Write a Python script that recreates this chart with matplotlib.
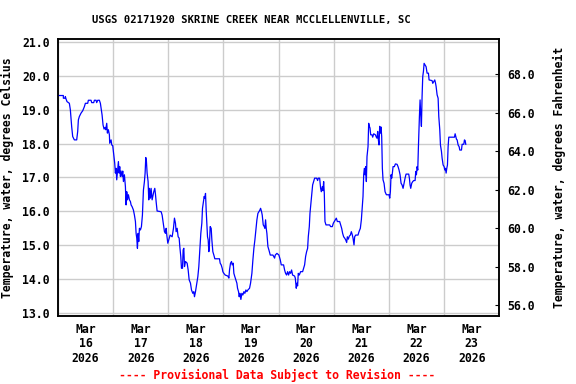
import datetime as dt
import matplotlib
matplotlib.use("Agg")
import matplotlib.pyplot as plt
import matplotlib.dates as mdates
from matplotlib.ticker import FixedLocator, NullFormatter

TITLE = "USGS 02171920 SKRINE CREEK NEAR MCCLELLENVILLE, SC"
YLABEL_C = "Temperature, water, degrees Celsius"
YLABEL_F = "Temperature, water, degrees Fahrenheit"
FOOTER = "---- Provisional Data Subject to Revision ----"

START = dt.datetime(2026, 3, 16)

# hours since Mar 16 00:00, water temperature in deg C
hours = [
    0.29, 2.32, 2.33, 3.05, 3.19, 3.48, 3.92, 4.94, 5.37, 5.95, 6.39, 7.11, 8.13, 8.57, 8.86,
    9.29, 10.02, 10.75, 11.47, 11.91, 12.92, 13.21, 14.37, 14.67, 15.54, 15.83, 16.55, 16.84,
    17.28, 18.0, 18.44, 18.73, 19.17, 19.6, 20.04, 20.47, 20.76, 21.2, 21.49, 21.92, 22.36,
    22.5, 23.09, 23.38, 23.81, 24.25, 24.68, 24.97, 25.26, 25.55, 25.99, 26.28, 26.57, 26.86,
    27.15, 27.44, 27.88, 28.17, 28.46, 28.89, 29.33, 29.62, 29.91, 30.2, 30.64, 31.07, 31.51,
    31.8, 32.23, 32.81, 33.25, 33.69, 33.98, 34.27, 34.56, 34.85, 35.14, 35.43, 35.86, 36.3,
    36.73, 37.17, 37.6, 37.9, 38.19, 38.48, 38.77, 39.2, 39.49, 39.78, 40.22, 40.51, 40.95,
    41.38, 41.67, 42.11, 42.4, 42.69, 43.12, 44.87, 45.3, 45.59, 46.03, 46.32, 46.75, 47.05,
    47.34, 47.77, 48.21, 48.79, 49.66, 50.24, 50.67, 51.11, 51.4, 51.84, 52.27, 52.71, 53.0,
    53.43, 53.72, 54.16, 54.45, 54.74, 55.03, 55.47, 56.19, 56.63, 57.06, 57.64, 58.08, 58.66,
    59.09, 59.38, 59.82, 60.4, 60.84, 61.27, 61.71, 62.14, 62.58, 62.87, 63.31, 63.6, 63.89,
    64.18, 64.47, 64.76, 65.05, 65.34, 65.63, 65.92, 66.21, 66.65, 66.94, 67.37, 67.81, 68.24,
    70.27, 70.56, 71.0, 71.44, 71.73, 72.16, 72.74, 73.9, 74.34, 74.63, 75.06, 75.5, 75.79,
    76.23, 76.52, 76.95, 77.39, 77.83, 78.12, 78.55, 78.84, 79.13, 79.57, 80.0, 80.44, 80.88,
    81.31, 81.75, 82.18, 82.62, 83.34, 83.78, 84.36, 84.8, 85.23, 85.67, 86.1, 86.54, 86.98,
    87.41, 87.85, 88.14, 88.57, 88.86, 89.3, 89.73, 90.02, 90.31, 90.6, 90.89, 91.33, 91.77,
    92.35, 93.51, 94.24, 94.53, 95.25, 96.12, 96.7, 97.14, 98.15, 98.59, 99.02, 99.46, 99.9,
    100.33, 100.77, 101.2, 101.64, 102.07, 102.95, 103.24, 103.67, 103.96, 104.25, 104.54,
    104.98, 105.56, 106.43, 106.87, 107.3, 107.74, 108.17, 108.61, 108.9, 109.34, 109.63,
    110.06, 110.5, 110.79, 111.22, 111.66, 112.53, 112.96, 113.26, 113.84, 114.27, 114.56,
    115.0, 115.29, 115.58, 115.87, 116.16, 116.6, 118.19, 118.62, 119.35, 119.79, 120.22,
    120.66, 121.1, 121.53, 122.55, 122.98, 123.42, 123.85, 124.29, 124.73, 125.16, 125.6,
    125.89, 126.32, 126.76, 127.2, 127.63, 128.07, 128.36, 128.79, 129.08, 129.52, 130.53,
    130.97, 131.55, 131.99, 132.42, 132.71, 133.0, 133.29, 133.58, 133.87, 134.16, 134.45,
    134.89, 135.18, 135.47, 135.76, 136.05, 136.63, 136.92, 137.36, 138.09, 138.52, 138.81,
    139.1, 139.39, 139.68, 139.97, 140.26, 140.55, 140.84, 141.13, 141.42, 141.86, 142.3,
    142.88, 144.04, 144.33, 144.62, 144.91, 145.2, 145.49, 145.78, 146.36, 146.8, 147.52,
    147.96, 148.39, 148.83, 149.27, 149.7, 150.14, 150.57, 151.01, 151.44, 152.6, 152.89,
    153.18, 153.47, 153.91, 154.35, 154.78, 155.37, 155.66, 155.95, 156.24, 156.53, 156.82,
    157.25, 157.54, 157.83, 158.12, 158.41, 158.7, 159.0, 159.29, 159.72, 160.16, 160.59,
    161.17, 161.46, 162.77, 163.06, 163.5, 163.93, 164.22, 164.51, 164.95, 165.39, 165.68,
    166.11, 166.4, 166.84, 167.13, 167.56, 168.0, 168.29, 168.58, 168.87, 169.16, 169.45,
    169.74, 170.03, 172.5, 172.79, 173.08, 173.37, 173.66, 174.09, 174.53, 174.82, 175.55,
    175.84, 176.56, 176.85, 177.14, 177.43,
]
temps = [
    19.42, 19.42, 19.34, 19.34, 19.39, 19.32, 19.24, 19.19, 19.0, 18.5, 18.21, 18.11, 18.11,
    18.36, 18.7, 18.8, 18.9, 18.97, 19.09, 19.19, 19.19, 19.28, 19.28, 19.21, 19.21, 19.28,
    19.28, 19.21, 19.28, 19.28, 19.19, 19.05, 18.85, 18.55, 18.43, 18.48, 18.41, 18.6, 18.31,
    18.41, 18.26, 18.01, 18.11, 17.96, 17.94, 17.67, 17.42, 17.13, 17.27, 16.93, 17.27, 17.47,
    17.13, 17.32, 17.03, 17.19, 17.03, 17.19, 16.88, 17.08, 16.73, 16.19, 16.58, 16.34, 16.49,
    16.34, 16.29, 16.19, 16.14, 16.04, 15.89, 15.7, 15.35, 15.21, 14.91, 15.35, 15.11, 15.5,
    15.45, 15.55, 15.89, 16.63, 16.88, 17.13, 17.59, 17.47, 17.13, 16.88, 16.34, 16.68, 16.39,
    16.68, 16.34, 16.49, 16.58, 16.68, 16.51, 16.29, 16.01, 15.99, 15.89, 15.75, 15.55, 15.4,
    15.35, 15.5, 15.3, 15.06, 15.16, 15.3, 15.25, 15.5, 15.8, 15.65, 15.4, 15.5, 15.25, 15.21,
    14.96, 14.66, 14.32, 14.32, 14.86, 14.91, 14.37, 14.52, 14.47, 14.27, 13.98, 13.88, 13.68,
    13.58, 13.63, 13.48, 13.63, 13.88, 14.07, 14.37, 14.86, 15.35, 15.65, 16.09, 16.29, 16.44,
    16.39, 16.53, 16.04, 15.65, 15.25, 15.16, 14.81, 15.06, 15.55, 15.5, 15.16, 14.81, 14.71,
    14.6, 14.6, 14.47, 14.42, 14.32, 14.22, 14.17, 14.12, 14.09, 14.03, 14.27, 14.47, 14.52,
    14.42, 14.47, 14.17, 14.07, 13.98, 13.88, 13.73, 13.63, 13.48, 13.58, 13.4, 13.58, 13.53,
    13.63, 13.58, 13.68, 13.63, 13.68, 13.73, 13.88, 14.17, 14.57, 14.91, 15.16, 15.45, 15.75,
    15.94, 15.99, 16.04, 16.09, 15.99, 15.89, 15.6, 15.55, 15.5, 15.75, 15.5, 15.35, 14.96,
    14.86, 14.71, 14.71, 14.62, 14.71, 14.76, 14.71, 14.57, 14.42, 14.42, 14.27, 14.17, 14.12,
    14.22, 14.12, 14.22, 14.17, 14.27, 14.12, 14.09, 14.03, 13.73, 13.88, 13.8, 14.17, 14.12,
    14.22, 14.22, 14.32, 14.42, 14.67, 14.81, 14.91, 15.25, 15.55, 15.94, 16.24, 16.53, 16.78,
    16.88, 16.98, 16.98, 16.91, 16.98, 16.98, 16.68, 16.58, 16.73, 16.61, 16.88, 16.53, 15.7,
    15.6, 15.6, 15.55, 15.55, 15.65, 15.7, 15.75, 15.8, 15.7, 15.7, 15.6, 15.5, 15.35, 15.25,
    15.21, 15.16, 15.08, 15.25, 15.18, 15.27, 15.3, 15.4, 15.3, 15.21, 15.01, 15.25, 15.3,
    15.3, 15.4, 15.5, 15.75, 16.14, 16.44, 17.08, 17.27, 17.08, 17.32, 16.88, 17.62, 17.91,
    18.6, 18.51, 18.46, 18.26, 18.26, 18.19, 18.29, 18.26, 18.19, 18.16, 18.36, 18.11, 17.96,
    18.51, 18.31, 18.49, 18.21, 17.27, 16.93, 16.83, 16.58, 16.49, 16.49, 16.39, 16.58, 17.08,
    16.98, 17.13, 17.32, 17.32, 17.4, 17.39, 17.32, 17.22, 17.08, 16.83, 16.78, 16.68, 16.83,
    16.98, 17.1, 17.1, 16.98, 16.78, 16.68, 16.83, 16.88, 16.91, 16.91, 17.18, 17.08, 17.32,
    17.22, 17.91, 18.8, 19.29, 18.85, 18.51, 19.39, 19.98, 20.13, 20.37, 20.32, 20.27, 20.08,
    20.08, 19.88, 19.86, 19.78, 19.83, 19.88, 19.8, 19.69, 19.44, 19.34, 18.8, 18.41, 17.96,
    17.77, 17.57, 17.37, 17.32, 17.22, 17.27, 17.13, 17.27, 17.37, 17.91, 18.19, 18.19, 18.29,
    18.21, 18.13, 18.11, 17.96, 17.91, 17.81, 17.81, 17.98, 17.98, 18.11, 18.09, 17.98,
]

times = [START + dt.timedelta(hours=h) for h in hours]

c_ticks = [13.0, 14.0, 15.0, 16.0, 17.0, 18.0, 19.0, 20.0, 21.0]
f_ticks = [56.0, 58.0, 60.0, 62.0, 64.0, 66.0, 68.0]
days = [START + dt.timedelta(days=i) for i in range(9)]
label_days = [d + dt.timedelta(hours=12) for d in days[:-1]]
day_labels = [d.strftime("%b\n%d\n%Y") for d in label_days]

font = "DejaVu Sans Mono"
plt.rcParams["font.family"] = font
plt.rcParams["font.weight"] = "bold"

fig = plt.figure(figsize=(5.76, 3.84), dpi=100)
ax = fig.add_axes([0.1007, 0.177, 0.7661, 0.7207])

ax.plot(times, temps, color="#0000ff", lw=0.9, zorder=3)

ax.set_xlim(days[0], days[-1])
ax.set_ylim(12.91, 21.08)
ax.xaxis.set_major_locator(FixedLocator(mdates.date2num(days)))
ax.xaxis.set_major_formatter(NullFormatter())
ax.xaxis.set_minor_locator(FixedLocator(mdates.date2num(label_days)))
ax.set_xticklabels(day_labels, minor=True)
ax.tick_params(axis="x", which="both", length=0, labelsize=8.3, pad=5)
for lab in ax.get_xticklabels(minor=True):
    lab.set_linespacing(1.15)
    lab.set_fontweight("bold")

ax.set_yticks(c_ticks)
ax.set_yticklabels([f"{v:.1f}" for v in c_ticks], fontweight="bold")
ax.tick_params(axis="y", length=0, labelsize=8.3, pad=6)
ax.grid(True, which="major", color="#cccccc", lw=1.0)
ax.set_axisbelow(True)
for s in ax.spines.values():
    s.set_linewidth(1.1)

ax.set_ylabel(YLABEL_C, fontsize=8.3, fontweight="bold", labelpad=6)

ax2 = ax.twinx()
ax2.set_ylim(55.44, 69.82)
ax2.set_yticks(f_ticks)
ax2.set_yticklabels([f"{v:.1f}" for v in f_ticks], fontweight="bold")
ax2.tick_params(axis="y", direction="in", length=3, width=0.8, labelsize=8.3, pad=6)
ax2.set_ylabel(YLABEL_F, fontsize=8.3, fontweight="bold", labelpad=13)
for s in ax2.spines.values():
    s.set_linewidth(1.1)

fig.text(0.4366, 0.948, TITLE, fontsize=7.6, fontweight="bold",
         ha="center", va="center")
fig.text(0.481, 0.0235, FOOTER, color="red", fontsize=8.3, fontweight="bold",
         ha="center", va="center")

fig.savefig("out.png", dpi=100)
